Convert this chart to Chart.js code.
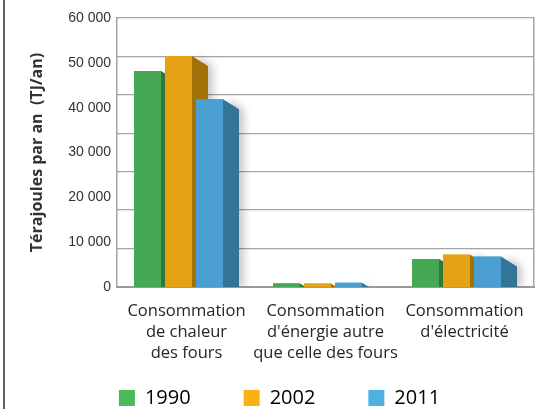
<!DOCTYPE html>
<html lang="fr">
<head>
<meta charset="utf-8">
<script src="https://cdn.jsdelivr.net/npm/chart.js@4/dist/chart.umd.min.js"></script>
<style>
  html, body { margin: 0; padding: 0; background: #fff; }
  #wrap { position: relative; width: 548px; height: 409px; }
  #rand { position: absolute; left: 3px; top: 0; width: 2px; height: 409px; background: #56636c; }
</style>
</head>
<body>
<div id="wrap"><div id="rand"></div><canvas id="c"></canvas></div>
<script>
// ── Daten ───────────────────────────────────────────────────────────────────
const KATEGORIEN = [
  ['Consommation', 'de chaleur', 'des fours'],
  ['Consommation', "d'énergie autre", 'que celle des fours'],
  ['Consommation', "d'électricité"],
];
const JAHRE = ['1990', '2002', '2011'];
const V1990 = [48200, 800, 6250];
const V2002 = [51500, 780, 7230];
const V2011 = [41900, 950, 6780];
const Y_MAX = 60000, Y_STEP = 10000;
const GRID_LINES = 7;   // Raster im Original passt nicht zu den Beschriftungen

// ── Stil ────────────────────────────────────────────────────────────────────
const FRONT  = ['#46a854', '#e3a314', '#4a9fd0'];
const SIDE   = ['#2d7a38', '#a27206', '#337597'];
const LEGEND = ['#4cb95a', '#fbb116', '#4fb0e2'];
const DEPTH = 16, DROP = 10;   // Seitenflaeche der Pseudo-3D-Balken
const GRAU = '#a4a4a4';
const LEGEND_TOP = 335;        // Legende: Einzug (padding) wirkt auch nach oben

// Chart.js zeichnet Datensaetze rueckwaerts (1990 zuletzt). Fuer die 3D-Optik
// muss aber jeder Balken die Seitenflaeche seines linken Nachbarn verdecken,
// also hier alles noch einmal in Reihenfolge 1990 → 2011: Front, dann Seite.
// Die ganze Gruppe um DEPTH/2 nach links, damit Front + Seite mittig sitzen.
const bars3d = {
  id: 'bars3d',
  afterLayout(ch) {
    // Legendenbox nach oben aufziehen (Unterkante bleibt), sonst clippt sie die Eintraege.
    const L = ch.legend;
    L.top = LEGEND_TOP; L.height = L.bottom - L.top;
  },
  beforeDatasetsDraw(ch) { ch.ctx.save(); ch.ctx.translate(-DEPTH / 2, 0); },
  afterDatasetsDraw(ch) {
    const ctx = ch.ctx;
    ch.data.datasets.forEach((ds, i) => {
      ch.getDatasetMeta(i).data.forEach(b => {
        b.draw(ctx);
        const { x, y, base, width } = b.getProps(['x', 'y', 'base', 'width'], true);
        const xr = x + width / 2, h = base - y;
        ctx.save();
        ctx.beginPath(); ctx.rect(xr, 0, DEPTH + 20, base); ctx.clip();
        ctx.shadowColor = 'rgba(0,0,0,.22)'; ctx.shadowBlur = 9; ctx.shadowOffsetX = 5;
        ctx.fillStyle = SIDE[i];
        ctx.beginPath();
        ctx.moveTo(xr, y);
        if (h > DROP) { ctx.lineTo(xr + DEPTH, y + DROP); ctx.lineTo(xr + DEPTH, base); }
        else ctx.lineTo(xr + DEPTH * h / DROP, base);
        ctx.lineTo(xr, base);
        ctx.closePath(); ctx.fill();
        ctx.restore();
      });
    });
    ctx.restore();
  },
};

const fmt = v => v === 0 ? '0' : String(v).replace(/\B(?=(\d{3})+(?!\d))/g, ' ');

new Chart(document.getElementById('c'), {
  type: 'bar',
  data: {
    labels: KATEGORIEN,
    datasets: [V1990, V2002, V2011].map((v, i) => ({
      label: JAHRE[i], data: v, backgroundColor: FRONT[i], borderWidth: 0,
      categoryPercentage: 0.669, barPercentage: 0.871,
    })),
  },
  options: {
    responsive: true, maintainAspectRatio: false, animation: false,
    layout: { padding: { left: 25, top: 18, right: 14, bottom: 0 } },
    scales: {
      x: {
        grid: { display: false, drawTicks: false },
        border: { display: true, color: '#9a9a9a', width: 2 },
        ticks: { color: '#262626', padding: 14, maxRotation: 0, autoSkip: false,
                 font: { family: 'Open Sans', size: 16.5, lineHeight: 1.27 } },
        afterFit: s => { s.height = 80; },
      },
      y: {
        position: 'left', min: 0, max: Y_MAX,
        grid: { display: false, drawTicks: false },
        border: { display: true, color: GRAU, width: 1.5 },
        ticks: { stepSize: Y_STEP, padding: 6, color: '#333', callback: fmt,
                 font: { family: 'Liberation Sans', size: 14 } },
        title: { display: true, text: 'Térajoules par an  (TJ/an)', color: '#333',
                 padding: { top: 3, bottom: 0 },
                 font: { family: 'Open Sans', size: 16, weight: 'bold' } },
        afterFit: s => { s.width = 92; },
      },
      yGrid: {
        position: 'right', min: 0, max: GRID_LINES,
        grid: { color: GRAU, lineWidth: 1.3, drawTicks: false },
        border: { display: true, color: GRAU, width: 1.5 },
        ticks: { display: false, stepSize: 1 },
        afterFit: s => { s.width = 0; },
      },
    },
    plugins: {
      tooltip: { enabled: false },
      legend: {
        position: 'bottom', maxHeight: 42,
        labels: {
          boxWidth: 16, boxHeight: 16, padding: 53, color: '#2a2a2a',
          font: { family: 'Open Sans', size: 20 },
          generateLabels: () => JAHRE.map((t, i) => ({
            text: t, fillStyle: LEGEND[i], strokeStyle: LEGEND[i], lineWidth: 0, datasetIndex: i,
          })),
        },
      },
    },
  },
  plugins: [bars3d],
});
</script>
</body>
</html>
